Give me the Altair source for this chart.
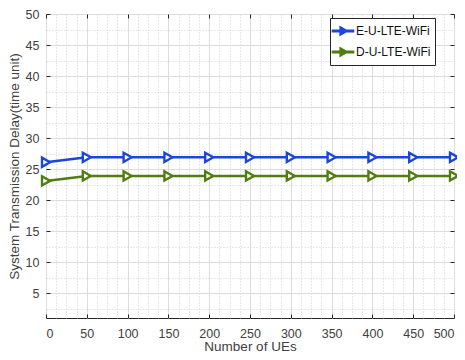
import altair as alt
import pandas as pd

ues = [0, 50, 100, 150, 200, 250, 300, 350, 400, 450, 500]
e_u = [26.1, 26.9, 26.9, 26.9, 26.9, 26.9, 26.9, 26.9, 26.9, 26.9, 26.9]
d_u = [23.1, 23.9, 23.9, 23.9, 23.9, 23.9, 23.9, 23.9, 23.9, 23.9, 23.9]
series = ["E-U-LTE-WiFi", "D-U-LTE-WiFi"]
colors = ["#1a47d6", "#4f7d10"]

x_major = [0, 50, 100, 150, 200, 250, 300, 350, 400, 450, 500]
x_minor = [i * 12.5 for i in range(41)]
y_major = [5, 10, 15, 20, 25, 30, 35, 40, 45, 50]
y_minor = [2.5 * i for i in range(1, 21)]

rows = []
for s, vals in zip(series, [e_u, d_u]):
    for xv, yv in zip(ues, vals):
        rows.append({"UEs": xv, "Delay": yv, "Series": s})
df = pd.DataFrame(rows)

W, H = 408, 304
xs = alt.Scale(domain=[0, 500], nice=False, zero=False)
ys = alt.Scale(domain=[1, 50], nice=False, zero=False)
FONT = "Liberation Sans"
TXT = "#404040"

base = alt.Chart(df)

minor = base.mark_point(opacity=0).encode(
    x=alt.X("UEs:Q", scale=xs, axis=alt.Axis(orient="bottom", values=x_minor, grid=True, gridDash=[1, 2],
            gridColor="#c4c4c4", gridWidth=0.8, labels=False, ticks=False, domain=False, title=None)),
    y=alt.Y("Delay:Q", scale=ys, axis=alt.Axis(orient="left", values=y_minor, grid=True, gridDash=[1, 2],
            gridColor="#c4c4c4", gridWidth=0.8, labels=False, ticks=False, domain=False, title=None)),
)

major = base.mark_point(opacity=0).encode(
    x=alt.X("UEs:Q", scale=xs, axis=alt.Axis(orient="bottom", values=x_major, grid=True, gridColor="#dcdcdc",
            gridWidth=1, ticks=False, domain=False, labelPadding=9, labelFontSize=12.5,
            labelFont=FONT, labelColor=TXT, title="Number of UEs", titleFont=FONT,
            titleFontSize=13.5, titleFontWeight="normal", titleColor=TXT, titlePadding=0)),
    y=alt.Y("Delay:Q", scale=ys, axis=alt.Axis(orient="left", values=y_major, grid=True, gridColor="#dcdcdc",
            gridWidth=1, ticks=False, domain=False, labelPadding=7, labelFontSize=12.5,
            labelFont=FONT, labelColor=TXT, title="System Transmission Delay(time unit)",
            titleFont=FONT, titleFontSize=13.5, titleFontWeight="normal", titleColor=TXT,
            titlePadding=4)),
)

tick_in = base.mark_point(opacity=0).encode(
    x=alt.X("UEs:Q", scale=xs, axis=alt.Axis(values=x_major, orient="top", offset=-H, ticks=True,
            tickSize=4, tickColor="#262626", labels=False, domain=False, grid=False, title=None)),
    y=alt.Y("Delay:Q", scale=ys, axis=alt.Axis(values=y_major, orient="right", offset=-W, ticks=True,
            tickSize=4, tickColor="#262626", labels=False, domain=False, grid=False, title=None)),
)

tick_in2 = base.mark_point(opacity=0).encode(
    x=alt.X("UEs:Q", scale=xs, axis=alt.Axis(values=x_major, orient="bottom", offset=-H, ticks=True,
            tickSize=4, tickColor="#262626", labels=False, domain=False, grid=False, title=None)),
    y=alt.Y("Delay:Q", scale=ys, axis=alt.Axis(values=y_major, orient="left", offset=-W, ticks=True,
            tickSize=4, tickColor="#262626", labels=False, domain=False, grid=False, title=None)),
)

legend_path = "M-1.6,0L1.6,0M-0.3,-0.4L0.4,0L-0.3,0.4Z"

lines = base.mark_line(strokeWidth=2.5).encode(
    x=alt.X("UEs:Q", scale=xs, axis=None),
    y=alt.Y("Delay:Q", scale=ys, axis=None),
    color=alt.Color("Series:N", scale=alt.Scale(domain=series, range=colors), sort=series,
                    legend=alt.Legend(title=None, orient="none", legendX=W - 124, legendY=4,
                                      symbolType=legend_path, symbolSize=200, symbolStrokeWidth=3,
                                      symbolFillColor="white", labelFont=FONT, labelFontSize=12,
                                      labelColor="#111111", strokeColor="#262626", fillColor="white",
                                      padding=4, rowPadding=3, labelOffset=4)),
)

points = base.mark_point(shape="triangle-right", size=85, strokeWidth=2.4, filled=False,
                         fill="white", fillOpacity=1, opacity=1).encode(
    x=alt.X("UEs:Q", scale=xs, axis=None),
    y=alt.Y("Delay:Q", scale=ys, axis=None),
    color=alt.Color("Series:N", scale=alt.Scale(domain=series, range=colors), sort=series, legend=None),
)

chart = alt.layer(minor, major, tick_in, tick_in2, lines, points).resolve_axis(
    x="independent", y="independent"
).properties(
    width=W, height=H, autosize=alt.AutoSizeParams(type="none"),
    padding={"left": 38, "top": 6, "right": 3, "bottom": 40},
    background="white",
).configure_view(stroke="#262626", strokeWidth=1)

chart.save("out.html", embed_options={"renderer": "svg", "actions": False})
